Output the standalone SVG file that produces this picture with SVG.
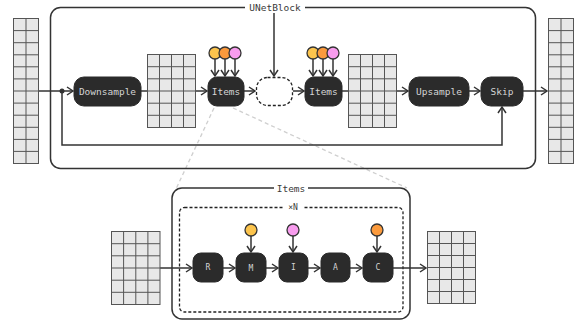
<svg xmlns="http://www.w3.org/2000/svg" width="575" height="322" viewBox="0 0 575 322">
<defs>
<marker id="ah" markerWidth="10" markerHeight="10" refX="7" refY="5" orient="auto" markerUnits="userSpaceOnUse">
<path d="M1,1 L7,5 L1,9" fill="none" stroke="#333" stroke-width="1.5"/>
</marker>
</defs>
<style>
.box{fill:none;stroke:#333;stroke-width:1.5}
.dash{fill:none;stroke:#222;stroke-width:1.3;stroke-dasharray:3 2}
.node{fill:#2b2b2b;stroke:#2b2b2b}
.nt{font-family:"DejaVu Sans Mono","Liberation Mono",monospace;font-size:9.5px;fill:#d4d4d4;text-anchor:middle;dominant-baseline:central}
.st{font-size:8px}
.lbl{font-family:"DejaVu Sans Mono","Liberation Mono",monospace;font-size:9.5px;fill:#3a3a3a;text-anchor:middle;dominant-baseline:central}
.ln{fill:none;stroke:#333;stroke-width:1.5}
.cell{fill:none;stroke:#555;stroke-width:1}
.hint{fill:none;stroke:#cfcfcf;stroke-width:1.3;stroke-dasharray:4 3}
.cy{fill:#fcc44d;stroke:#333;stroke-width:1.3}
.co{fill:#fb9a3c;stroke:#333;stroke-width:1.3}
.cp{fill:#f89cee;stroke:#333;stroke-width:1.3}
</style>

<!-- hint lines -->
<g id="hints">
<line class="hint" x1="214" y1="108" x2="176" y2="189"/>
<line class="hint" x1="233" y1="108" x2="407" y2="188"/>
</g>

<!-- outer UNetBlock box -->
<g id="unetblock">
<rect class="box" x="50.5" y="7.5" width="485" height="161" rx="10"/>
<rect x="245" y="1" width="60" height="13" fill="#fff"/>
<text class="lbl" x="275" y="7.5">UNetBlock</text>
</g>

<!-- lower Items box -->
<g id="items-detail">
<rect class="box" x="172" y="188" width="238" height="131" rx="10"/>
<rect x="274" y="182" width="34" height="12" fill="#fff"/>
<text class="lbl" x="291" y="188">Items</text>
<rect class="dash" x="179.5" y="207.5" width="223.5" height="104.5" rx="5"/>
<rect x="283" y="202" width="20" height="11" fill="#fff"/>
<text class="lbl" x="293" y="207" style="font-size:8px">×N</text>
</g>

<!-- connectors -->
<g id="connectors">
<line class="ln" x1="38" y1="91" x2="73" y2="91" marker-end="url(#ah)"/>
<polyline class="ln" points="62,91 62,145 502,145 502,107" marker-end="url(#ah)"/>
<line class="ln" x1="141" y1="91" x2="207" y2="91" marker-end="url(#ah)"/>
<line class="ln" x1="244" y1="91" x2="255" y2="91" marker-end="url(#ah)"/>
<line class="ln" x1="293" y1="91" x2="304" y2="91" marker-end="url(#ah)"/>
<line class="ln" x1="342" y1="91" x2="408" y2="91" marker-end="url(#ah)"/>
<line class="ln" x1="469" y1="91" x2="480" y2="91" marker-end="url(#ah)"/>
<line class="ln" x1="523" y1="91" x2="547" y2="91" marker-end="url(#ah)"/>
<line class="ln" x1="274" y1="13" x2="274" y2="76" marker-end="url(#ah)"/>
<line class="ln" x1="215" y1="59" x2="215" y2="76" marker-end="url(#ah)"/>
<line class="ln" x1="225" y1="59" x2="225" y2="76" marker-end="url(#ah)"/>
<line class="ln" x1="235" y1="59" x2="235" y2="76" marker-end="url(#ah)"/>
<line class="ln" x1="313" y1="59" x2="313" y2="76" marker-end="url(#ah)"/>
<line class="ln" x1="323" y1="59" x2="323" y2="76" marker-end="url(#ah)"/>
<line class="ln" x1="333" y1="59" x2="333" y2="76" marker-end="url(#ah)"/>
<line class="ln" x1="160" y1="268" x2="192" y2="268" marker-end="url(#ah)"/>
<line class="ln" x1="223" y1="268" x2="235" y2="268" marker-end="url(#ah)"/>
<line class="ln" x1="266" y1="268" x2="278" y2="268" marker-end="url(#ah)"/>
<line class="ln" x1="308" y1="268" x2="320" y2="268" marker-end="url(#ah)"/>
<line class="ln" x1="350" y1="268" x2="362" y2="268" marker-end="url(#ah)"/>
<line class="ln" x1="393" y1="268" x2="426" y2="268" marker-end="url(#ah)"/>
<line class="ln" x1="251" y1="236" x2="251" y2="252" marker-end="url(#ah)"/>
<line class="ln" x1="293" y1="236" x2="293" y2="252" marker-end="url(#ah)"/>
<line class="ln" x1="377" y1="236" x2="377" y2="252" marker-end="url(#ah)"/>
<circle cx="62" cy="91" r="2.5" fill="#333"/>
</g>

<!-- grids -->
<g id="grid-in">
<rect x="13.5" y="18.5" width="25" height="145" fill="#e8e8e8" stroke="#555"/>
<path class="cell" d="M26,18.5V163.5M13.5,30.6H38.5M13.5,42.7H38.5M13.5,54.8H38.5M13.5,66.8H38.5M13.5,78.9H38.5M13.5,91H38.5M13.5,103.1H38.5M13.5,115.2H38.5M13.5,127.3H38.5M13.5,139.4H38.5M13.5,151.4H38.5"/>
</g>
<g id="grid-out">
<rect x="548.5" y="18.5" width="25" height="145" fill="#e8e8e8" stroke="#555"/>
<path class="cell" d="M561,18.5V163.5M548.5,30.6H573.5M548.5,42.7H573.5M548.5,54.8H573.5M548.5,66.8H573.5M548.5,78.9H573.5M548.5,91H573.5M548.5,103.1H573.5M548.5,115.2H573.5M548.5,127.3H573.5M548.5,139.4H573.5M548.5,151.4H573.5"/>
</g>
<g id="grid-down">
<rect x="147.5" y="54.5" width="48" height="73" fill="#e8e8e8" stroke="#555"/>
<path class="cell" d="M159.5,54.5V127.5M171.5,54.5V127.5M183.5,54.5V127.5M147.5,66.7H195.5M147.5,78.8H195.5M147.5,91H195.5M147.5,103.2H195.5M147.5,115.3H195.5"/>
</g>
<g id="grid-mid">
<rect x="348.5" y="54.5" width="48" height="73" fill="#e8e8e8" stroke="#555"/>
<path class="cell" d="M360.5,54.5V127.5M372.5,54.5V127.5M384.5,54.5V127.5M348.5,66.7H396.5M348.5,78.8H396.5M348.5,91H396.5M348.5,103.2H396.5M348.5,115.3H396.5"/>
</g>
<g id="grid-lin">
<rect x="111.5" y="231.5" width="48.5" height="73" fill="#e8e8e8" stroke="#555"/>
<path class="cell" d="M123.6,231.5V304.5M135.8,231.5V304.5M147.9,231.5V304.5M111.5,243.7H160M111.5,255.8H160M111.5,268H160M111.5,280.2H160M111.5,292.3H160"/>
</g>
<g id="grid-lout">
<rect x="427.5" y="231.5" width="48" height="72" fill="#e8e8e8" stroke="#555"/>
<path class="cell" d="M439.5,231.5V303.5M451.5,231.5V303.5M463.5,231.5V303.5M427.5,243.5H475.5M427.5,255.5H475.5M427.5,267.5H475.5M427.5,279.5H475.5M427.5,291.5H475.5"/>
</g>

<!-- nodes -->
<g id="downsample"><rect class="node" x="74" y="77" width="67" height="29" rx="10"/><text class="nt" x="107.5" y="91.5">Downsample</text></g>
<g id="items1"><rect class="node" x="208" y="77" width="36" height="29" rx="9"/><text class="nt" x="226" y="91.5">Items</text>
<circle class="cy" cx="215" cy="53" r="6"/><circle class="co" cx="225" cy="53" r="6"/><circle class="cp" cx="235" cy="53" r="6"/></g>
<g id="empty"><rect class="dash" x="256.5" y="77.5" width="36" height="28" rx="11"/></g>
<g id="items2"><rect class="node" x="305" y="77" width="37" height="29" rx="9"/><text class="nt" x="323.5" y="91.5">Items</text>
<circle class="cy" cx="313" cy="53" r="6"/><circle class="co" cx="323" cy="53" r="6"/><circle class="cp" cx="333" cy="53" r="6"/></g>
<g id="upsample"><rect class="node" x="409" y="77" width="60" height="29" rx="10"/><text class="nt" x="439" y="91.5">Upsample</text></g>
<g id="skip"><rect class="node" x="481" y="77" width="42" height="29" rx="10"/><text class="nt" x="502" y="91.5">Skip</text></g>

<g id="R"><rect class="node" x="193" y="253" width="30" height="29" rx="8"/><text class="nt st" x="208" y="267.5">R</text></g>
<g id="M"><rect class="node" x="236" y="253" width="30" height="29" rx="8"/><text class="nt st" x="251" y="268">M</text>
<circle class="cy" cx="251" cy="230" r="6"/></g>
<g id="I"><rect class="node" x="279" y="253" width="29" height="29" rx="8"/><text class="nt st" x="293.5" y="267.5">I</text>
<circle class="cp" cx="293" cy="230" r="6"/></g>
<g id="A"><rect class="node" x="321" y="253" width="29" height="29" rx="8"/><text class="nt st" x="335.5" y="267.5">A</text></g>
<g id="C"><rect class="node" x="363" y="253" width="30" height="29" rx="8"/><text class="nt st" x="378" y="267.5">C</text>
<circle class="co" cx="377" cy="230" r="6"/></g>
</svg>
